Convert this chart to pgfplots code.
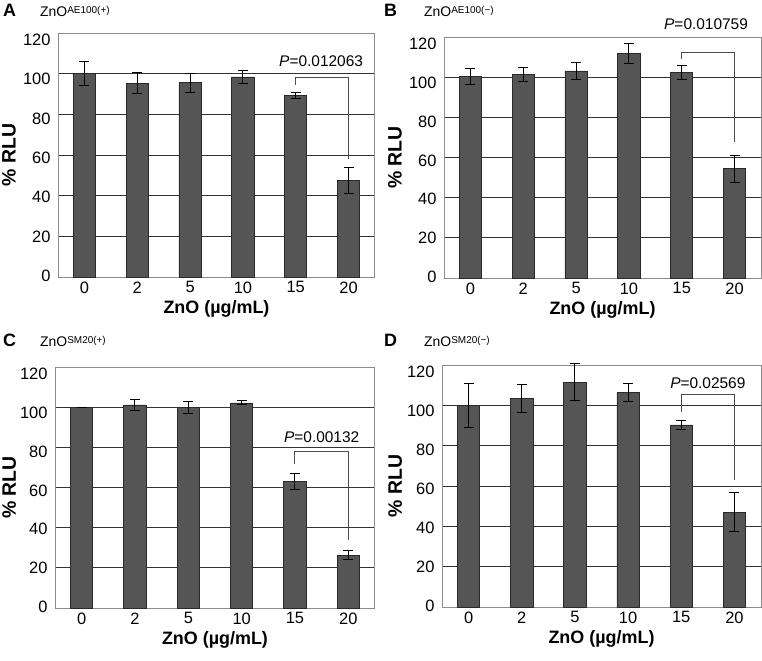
\documentclass[border=0pt]{standalone}
\usepackage{fontspec}
\setmainfont{Liberation Sans}
\usepackage{pgfplots}
\pgfplotsset{compat=1.18}
\definecolor{barfill}{HTML}{555555}
\definecolor{bardraw}{HTML}{2A2A2A}
\pgfplotsset{
 panel/.style={
  scale only axis, ymin=0, ymax=120, ytick={0,20,...,120},
  xmin=-0.5, xmax=5.5, xtick={0,...,5}, xticklabels={0,2,5,10,15,20},
  major tick length=0pt,
  axis line style={draw=black!45, line width=1bp},
  ymajorgrids, grid style={black!80, line width=0.9bp},
  tick label style={font=\fontsize{16.5}{16.5}\selectfont},
  /pgf/number format/assume math mode=true,
  xticklabel style={yshift=-1bp},
  yticklabel style={xshift=-4bp, yshift={(1-0.065*\tick)*1bp}},
  xlabel={ZnO (µg/mL)}, ylabel={\% RLU},
  xlabel style={font=\fontsize{18}{18}\selectfont\bfseries, at={(axis description cs:0.5,0)}, anchor=base, yshift=-36.5bp},
  ylabel style={font=\fontsize{19.5}{19.5}\selectfont\bfseries, at={(axis description cs:-0.1546,0.5)}, anchor=center},
  clip=false,
 },
 bars/.style={ybar, bar width=0.42, fill=barfill, draw=bardraw, line width=0.8bp,
  error bars/.cd, y dir=both, y explicit,
  error bar style={line width=1bp, black},
  error mark options={rotate=90, mark size=5bp, line width=1bp, black}},
}
\tikzset{
 bracket/.style={black!70, line width=1bp},
 plab/.style={font=\fontsize{15.5}{15.5}\selectfont},
 letter/.style={anchor=base west, font=\fontsize{18}{18}\selectfont\bfseries, inner sep=0},
 subttl/.style={anchor=base west, font=\fontsize{14}{14}\selectfont, inner sep=0},
}
\newcommand{\sub}[1]{\raisebox{3.5bp}{\fontsize{10}{10}\selectfont #1}}
\begin{document}
\begin{tikzpicture}
\useasboundingbox (0,0) rectangle (762bp,-661bp);
% Panel titles
\node[letter] at (3bp,-16bp) {A};
\node[subttl] at (40bp,-16.7bp) {ZnO\sub{AE100(+)}};
\node[letter] at (384bp,-16bp) {B};
\node[subttl] at (424bp,-16.7bp) {ZnO\sub{AE100(−)}};
\node[letter] at (3bp,-346bp) {C};
\node[subttl] at (40bp,-346.7bp) {ZnO\sub{SM20(+)}};
\node[letter] at (384bp,-346bp) {D};
\node[subttl] at (424bp,-346.7bp) {ZnO\sub{SM20(−)}};

% Panel A
\begin{axis}[panel, at={(58bp,-277bp)}, anchor=south west, width=317bp, height=244bp]
\addplot[bars] table[x=x, y=y, y error=e] {
x y e
0 100 6
1 95.3 5.2
2 95.5 4.7
3 98.4 3.4
4 89.1 1.5
5 47.6 6.4
};
\draw[bracket] (axis cs:4,94.5) -- (axis cs:4,98) -- (axis cs:5,98) -- (axis cs:5,58);
\node[plab] at (axis cs:4.48,106) {\textit{P}=0.012063};
\end{axis}

% Panel B
\begin{axis}[panel, at={(444bp,-278bp)}, anchor=south west, width=317bp, height=241bp]
\addplot[bars] table[x=x, y=y, y error=e] {
x y e
0 100.5 4
1 101.3 3.3
2 103.1 4.3
3 111.7 5
4 102.4 3.5
5 54.4 6.8
};
\draw[bracket] (axis cs:4,108.9) -- (axis cs:4,112.2) -- (axis cs:5,112.2) -- (axis cs:5,67.6);
\node[plab] at (axis cs:4.46,126.3) {\textit{P}=0.010759};
\end{axis}

% Panel C
\begin{axis}[panel, at={(55bp,-608bp)}, anchor=south west, width=320bp, height=241bp,
  ylabel style={at={(axis description cs:-0.143,0.5)}}]
\addplot[bars] table[x=x, y=y, y error=e] {
x y e
0 100 0
1 101.1 2.7
2 99.8 3.1
3 102.1 1
4 62.9 4
5 26.3 2.1
};
\draw[bracket] (axis cs:4,71.7) -- (axis cs:4,78.1) -- (axis cs:5,78.1) -- (axis cs:5,33.9);
\node[plab] at (axis cs:4.5,85.3) {\textit{P}=0.00132};
\end{axis}

% Panel D
\begin{axis}[panel, at={(442bp,-607bp)}, anchor=south west, width=319bp, height=242bp,
  ylabel style={at={(axis description cs:-0.147,0.5)}}]
\addplot[bars] table[x=x, y=y, y error=e] {
x y e
0 100 11
1 103.3 6.9
2 111.5 9
3 106.3 4.5
4 90.3 2.2
5 47 9.7
};
\draw[bracket] (axis cs:4,96.7) -- (axis cs:4,105.5) -- (axis cs:5,105.5) -- (axis cs:5,62.8);
\node[plab] at (axis cs:4.5,110.8) {\textit{P}=0.02569};
\end{axis}
\end{tikzpicture}
\end{document}
